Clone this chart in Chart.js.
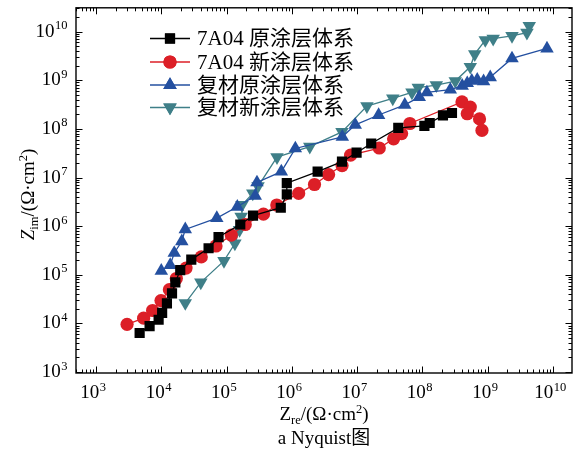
<!DOCTYPE html>
<html>
<head>
<meta charset="utf-8">
<script src="https://cdn.jsdelivr.net/npm/chart.js@4.4.1/dist/chart.umd.min.js"></script>
<style>
html,body{margin:0;padding:0;background:#fff;}
#wrap{width:581px;height:453px;position:relative;}
</style>
</head>
<body>
<div id="wrap"><canvas id="c" width="581" height="453"></canvas></div>
<script>
// ---- data ----
const seriesNames = ['7A04 原涂层体系', '7A04 新涂层体系', '复材原涂层体系', '复材新涂层体系'];

const a7OrigRe = [4.66e3, 6.62e3, 9.10e3, 1.03e4, 1.22e4, 1.46e4, 1.64e4, 1.95e4, 2.88e4, 5.30e4, 7.53e4, 1.62e5, 2.54e5, 6.76e5, 8.36e5, 8.36e5, 2.48e6, 5.85e6, 9.79e6, 1.64e7, 4.26e7, 1.07e8, 1.29e8, 2.06e8, 2.83e8];
const a7OrigIm = [6.34e3, 8.81e3, 1.19e4, 1.65e4, 2.59e4, 4.15e4, 6.97e4, 1.25e5, 2.05e5, 3.51e5, 5.97e5, 1.08e6, 1.65e6, 2.39e6, 4.50e6, 7.66e6, 1.32e7, 2.12e7, 3.24e7, 5.01e7, 1.05e8, 1.15e8, 1.32e8, 1.89e8, 2.12e8];

const a7NewRe = [2.99e3, 5.36e3, 7.36e3, 9.89e3, 1.33e4, 1.70e4, 2.39e4, 4.10e4, 6.89e4, 1.18e5, 1.93e5, 3.67e5, 5.87e5, 1.27e6, 2.22e6, 3.65e6, 5.87e6, 7.93e6, 2.18e7, 3.61e7, 4.79e7, 6.41e7, 4.03e8, 5.40e8, 4.85e8, 7.48e8, 8.15e8];
const a7NewIm = [9.55e3, 1.28e4, 1.84e4, 2.94e4, 4.94e4, 8.39e4, 1.37e5, 2.33e5, 3.91e5, 6.55e5, 1.08e6, 1.76e6, 2.72e6, 4.71e6, 7.19e6, 1.15e7, 1.76e7, 2.88e7, 4.04e7, 6.25e7, 8.02e7, 1.29e8, 3.59e8, 2.81e8, 2.05e8, 1.60e8, 9.31e7];

const compOrigRe = [1.00e4, 1.37e4, 1.58e4, 2.06e4, 2.33e4, 7.08e4, 1.46e5, 2.75e5, 2.92e5, 6.89e5, 1.13e6, 5.92e6, 9.35e6, 2.13e7, 5.36e7, 8.93e7, 1.17e8, 2.67e8, 4.06e8, 4.85e8, 5.69e8, 6.90e8, 8.63e8, 1.09e9, 2.35e9, 8.07e9];
const compOrigIm = [1.21e5, 1.58e5, 2.81e5, 4.88e5, 8.57e5, 1.46e6, 2.50e6, 4.19e6, 7.91e6, 1.32e7, 3.96e7, 6.87e7, 1.21e8, 1.93e8, 3.13e8, 4.50e8, 5.61e8, 6.40e8, 7.66e8, 8.69e8, 9.77e8, 1.02e9, 9.55e8, 1.15e9, 2.81e9, 4.50e9];

const compNewRe = [2.33e4, 4.03e4, 9.12e4, 1.34e5, 1.58e5, 1.67e5, 1.72e5, 2.52e5, 3.03e5, 5.92e5, 1.88e6, 5.85e6, 1.41e7, 3.51e7, 6.90e7, 8.63e7, 1.63e8, 3.18e8, 5.40e8, 6.32e8, 9.16e8, 1.21e9, 2.35e9, 3.98e9, 4.32e9];
const compNewIm = [2.62e4, 6.97e4, 1.93e5, 4.40e5, 8.36e5, 1.56e6, 2.72e6, 4.71e6, 6.61e6, 2.62e7, 4.30e7, 8.69e7, 2.94e8, 4.24e8, 5.61e8, 7.03e8, 7.91e8, 9.64e8, 1.89e9, 3.44e9, 6.71e9, 7.19e9, 8.17e9, 9.55e9, 1.31e10];

const decadeExponents = [3, 4, 5, 6, 7, 8, 9, 10];

// ---- helpers ----
function pts(xs, ys) { return xs.map((x, i) => ({ x: x, y: ys[i] })); }

const SERIF = "'Liberation Serif','Noto Sans CJK SC',serif";

const styles = [
  { color: '#000000', pointStyle: 'rect', radius: 7.2, rotation: 0 },
  { color: '#dc1f27', pointStyle: 'circle', radius: 6.6, rotation: 0 },
  { color: '#2450a0', pointStyle: 'triangle', radius: 7.8, rotation: 0 },
  { color: '#3f7f88', pointStyle: 'triangle', radius: 7.8, rotation: 180 }
];
const dataSets = [pts(a7OrigRe, a7OrigIm), pts(a7NewRe, a7NewIm), pts(compOrigRe, compOrigIm), pts(compNewRe, compNewIm)];

// draw "10^n" text
function drawPow(ctx, x, y, exp, mode) {
  ctx.save();
  ctx.fillStyle = '#000';
  ctx.textBaseline = 'alphabetic';
  ctx.textAlign = 'left';
  const baseFont = '19px ' + SERIF, supFont = '12.5px ' + SERIF;
  ctx.font = baseFont; const wb = ctx.measureText('10').width;
  ctx.font = supFont; const we = ctx.measureText(String(exp)).width;
  let x0;
  if (mode === 'center') x0 = x - (wb + we) / 2;
  else x0 = x - (wb + we);
  ctx.font = baseFont; ctx.fillText('10', x0, y);
  ctx.font = supFont; ctx.fillText(String(exp), x0 + wb + 0.5, y - 7.5);
  ctx.restore();
}

function fontFor(kind) {
  if (kind === 'sub' || kind === 'sup') return '12.5px ' + SERIF;
  if (kind === 'it') return 'italic 19px ' + SERIF;
  return '19px ' + SERIF;
}
function runWidth(ctx, parts) {
  let w = 0;
  for (const p of parts) { ctx.font = fontFor(p[1]); w += ctx.measureText(p[0]).width; }
  return w;
}
function drawRun(ctx, parts, x, y) {
  let cx = x;
  for (const p of parts) {
    ctx.font = fontFor(p[1]);
    const dy = p[1] === 'sub' ? 4 : (p[1] === 'sup' ? -7.5 : 0);
    ctx.fillText(p[0], cx, y + dy);
    cx += ctx.measureText(p[0]).width;
  }
}

const decor = {
  id: 'decor',
  afterDraw(chart) {
    const ctx = chart.ctx, a = chart.chartArea;
    const xs = chart.scales.x, ys = chart.scales.y;
    ctx.save();
    // frame
    ctx.strokeStyle = '#000'; ctx.lineWidth = 1.4;
    ctx.strokeRect(a.left, a.top, a.right - a.left, a.bottom - a.top);
    // ticks inward, all four sides
    ctx.lineWidth = 1;
    ctx.beginPath();
    for (let e = 2; e <= 10; e++) {
      for (let m = 1; m <= 9; m++) {
        const v = m * Math.pow(10, e);
        const len = m === 1 ? 6.5 : 3.5;
        if (v >= xs.min && v <= xs.max) {
          const px = Math.round(xs.getPixelForValue(v)) + 0.5;
          ctx.moveTo(px, a.bottom); ctx.lineTo(px, a.bottom - len);
          ctx.moveTo(px, a.top); ctx.lineTo(px, a.top + len);
        }
        if (v >= ys.min && v <= ys.max) {
          const py = Math.round(ys.getPixelForValue(v)) + 0.5;
          ctx.moveTo(a.left, py); ctx.lineTo(a.left + len, py);
          ctx.moveTo(a.right, py); ctx.lineTo(a.right - len, py);
        }
      }
    }
    ctx.stroke();
    // tick labels
    for (const e of decadeExponents) {
      const v = Math.pow(10, e);
      drawPow(ctx, xs.getPixelForValue(v) - 3, a.bottom + 25, e, 'center');
      drawPow(ctx, a.left - 9, ys.getPixelForValue(v) + 5, e, 'right');
    }
    // axis titles
    ctx.fillStyle = '#000'; ctx.textBaseline = 'alphabetic'; ctx.textAlign = 'left';
    const xt = [['Z', 'n'], ['re', 'sub'], ['/(Ω·cm', 'n'], ['2', 'sup'], [')', 'n']];
    const wx = runWidth(ctx, xt);
    const cx = (a.left + a.right) / 2;
    drawRun(ctx, xt, cx - wx / 2, 420);
    // caption
    ctx.font = '19px ' + SERIF; ctx.textAlign = 'center';
    ctx.fillText('a Nyquist图', cx, 444);
    ctx.textAlign = 'left';
    // y title
    const yt = [['Z', 'it'], ['im', 'sub'], ['/(Ω·cm', 'n'], ['2', 'sup'], [')', 'n']];
    const wy = runWidth(ctx, yt);
    ctx.save();
    ctx.translate(34, (a.top + a.bottom) / 2 + 4);
    ctx.rotate(-Math.PI / 2);
    drawRun(ctx, yt, -wy / 2, 0);
    ctx.restore();
    // legend
    const rowY = [38.5, 62, 85, 107.5];
    for (let i = 0; i < 4; i++) {
      const st = styles[i];
      ctx.strokeStyle = st.color; ctx.lineWidth = 1.3;
      ctx.beginPath(); ctx.moveTo(150, rowY[i]); ctx.lineTo(190, rowY[i]); ctx.stroke();
      ctx.fillStyle = st.color;
      Chart.helpers.drawPoint(ctx, { pointStyle: st.pointStyle, radius: st.radius, rotation: st.rotation, borderWidth: 0 }, 170, rowY[i]);
      ctx.fill();
      ctx.fillStyle = '#000';
      ctx.font = '21px ' + SERIF; ctx.textBaseline = 'middle';
      ctx.fillText(seriesNames[i], 197, rowY[i] + 1);
    }
    ctx.restore();
  }
};

new Chart(document.getElementById('c'), {
  type: 'line',
  data: {
    datasets: dataSets.map((d, i) => ({
      label: seriesNames[i],
      data: d,
      borderColor: styles[i].color,
      backgroundColor: styles[i].color,
      borderWidth: 1.3,
      pointStyle: styles[i].pointStyle,
      pointRadius: styles[i].radius,
      pointRotation: styles[i].rotation,
      pointBorderWidth: 0,
      pointBackgroundColor: styles[i].color,
      showLine: true,
      tension: 0,
      fill: false
    }))
  },
  options: {
    responsive: false,
    animation: false,
    parsing: true,
    layout: { padding: { left: 0, top: 5, right: 9, bottom: 0 } },
    plugins: { legend: { display: false }, tooltip: { enabled: false } },
    scales: {
      x: {
        type: 'logarithmic', min: 494, max: 1.95e10,
        grid: { display: false, drawTicks: false }, border: { display: false },
        ticks: { display: false },
        afterFit(s) { s.height = 80; }
      },
      y: {
        type: 'logarithmic', min: 955, max: 3.09e10,
        grid: { display: false, drawTicks: false }, border: { display: false },
        ticks: { display: false },
        afterFit(s) { s.width = 76; }
      }
    }
  },
  plugins: [decor]
});
</script>
</body>
</html>
